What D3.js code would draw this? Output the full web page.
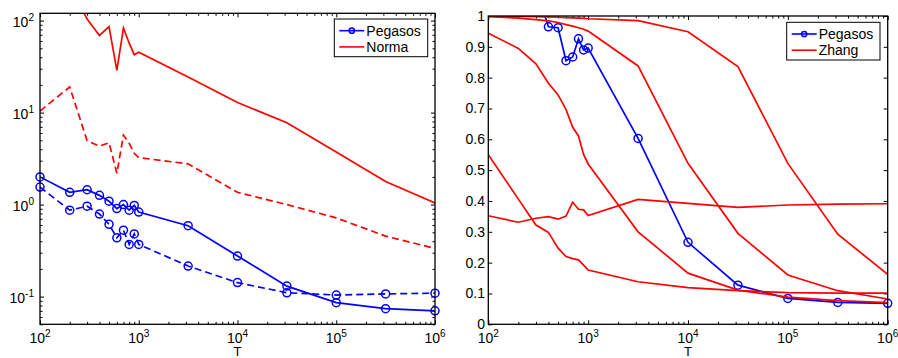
<!DOCTYPE html>
<html><head><meta charset="utf-8">
<script src="https://cdn.jsdelivr.net/npm/d3@7"></script>
<style>
body{margin:0;background:#fff}
svg{display:block}
text{font-family:"Liberation Sans",Arial,Helvetica,sans-serif;fill:#000}
</style>
</head><body>
<svg id="c" width="898" height="358"></svg>
<script>
// ---- data ----
const T = [100,200,300,400,500,600,700,800,900,1000,3162,10000,31623,100000,316228,1000000];

// left panel (log-log)
const pegasosSolid  = [2.0,1.36,1.45,1.26,1.09,0.905,1.0,0.87,0.98,0.83,0.59,0.276,0.13,0.086,0.074,0.070];
const pegasosDashed = [1.55,0.87,0.96,0.79,0.61,0.436,0.527,0.369,0.48,0.369,0.215,0.142,0.11,0.104,0.107,0.109];
const normaSolid    = [350,240,104,69,86,28.8,83,56.8,42.6,45.4,24.3,12.9,7.74,3.73,1.78,1.04];
const normaDashed   = [10.4,19,4.94,4.33,4.70,2.19,5.69,4.63,3.61,3.24,2.77,1.36,1.0,0.717,0.454,0.334];

// right panel (log x, linear y)
const pegasosRight = [1.2,1.15,1.09,0.965,0.962,0.855,0.867,0.926,0.89,0.896,0.603,0.266,0.127,0.084,0.071,0.068];
const zhangA = [1.0,0.999,0.998,0.997,0.996,0.995,0.994,0.993,0.992,0.991,0.985,0.949,0.836,0.522,0.292,0.162];
const zhangB = [0.998,0.993,0.988,0.984,0.979,0.972,0.967,0.962,0.957,0.951,0.838,0.522,0.295,0.16,0.109,0.082];
const zhangC = [0.944,0.895,0.845,0.782,0.744,0.697,0.639,0.611,0.551,0.52,0.30,0.166,0.111,0.088,0.077,0.07];
const zhangD = [0.55,0.406,0.322,0.298,0.247,0.22,0.213,0.209,0.192,0.176,0.138,0.119,0.109,0.103,0.101,0.101];
const zhangE = [0.352,0.331,0.344,0.349,0.341,0.351,0.396,0.373,0.371,0.353,0.405,0.392,0.379,0.387,0.39,0.391];

const xExponents = [2,3,4,5,6];
const yExponentsLeft = [-1,0,1,2];
const yTicksRight = [0,0.1,0.2,0.3,0.4,0.5,0.6,0.7,0.8,0.9,1];
const legendLeft = ["Pegasos","Norma"];
const legendRight = ["Pegasos","Zhang"];

// ---- drawing ----
const svg = d3.select("#c");
const BLUE = "#0000ff", RED = "#ff0000";
const FS = 14;

const L = {x0:40, x1:435, y0:13.3, y1:324.3};
const R = {x0:488.3, x1:887.7, y0:16, y1:324.3};

const xL = d3.scaleLog().domain([100,1e6]).range([L.x0,L.x1]);
const yL = d3.scaleLog().domain([0.05,120]).range([L.y1,L.y0]);
const xR = d3.scaleLog().domain([100,1e6]).range([R.x0,R.x1]);
const yR = d3.scaleLinear().domain([0,1]).range([R.y1,R.y0]);

const defs = svg.append("defs");
function clip(id, P){
  defs.append("clipPath").attr("id",id).append("rect")
    .attr("x",P.x0).attr("y",P.y0).attr("width",P.x1-P.x0).attr("height",P.y1-P.y0);
}
clip("cl",L); clip("cr",R);

function isMajor(v){ const l=Math.log10(v); return Math.abs(l-Math.round(l))<1e-9; }

function tickGroup(gen, scale, values, size, tx, ty){
  svg.append("g").attr("transform",`translate(${tx},${ty})`)
    .call(gen(scale).tickValues(values).tickSize(size).tickFormat(""))
    .call(g=>{ g.select(".domain").remove(); g.selectAll("line").attr("stroke","#000").attr("stroke-width",1); g.selectAll("text").remove(); });
}

function logXAxis(x, P){
  const all = x.ticks();
  const maj = all.filter(isMajor), min = all.filter(v=>!isMajor(v));
  tickGroup(d3.axisBottom, x, maj, -4, 0, P.y1);
  tickGroup(d3.axisBottom, x, min, -2.5, 0, P.y1);
  tickGroup(d3.axisTop, x, maj, -4, 0, P.y0);
  tickGroup(d3.axisTop, x, min, -2.5, 0, P.y0);
  xExponents.forEach(e=>{
    const t = svg.append("text").attr("x",x(Math.pow(10,e))).attr("y",343)
      .attr("text-anchor","middle").attr("font-size",FS);
    t.append("tspan").text("10");
    t.append("tspan").attr("dy",-6).attr("font-size",FS*0.72).text(e);
  });
  svg.append("text").attr("x",(P.x0+P.x1)/2).attr("y",355.5).attr("text-anchor","middle")
    .attr("font-size",13).text("T");
}

function box(P){
  svg.append("rect").attr("x",P.x0).attr("y",P.y0).attr("width",P.x1-P.x0).attr("height",P.y1-P.y0)
    .attr("fill","none").attr("stroke","#000").attr("stroke-width",1.3);
}

function series(x, y, vals, color, dashed, clipId, markers, ydom){
  const data = T.map((t,i)=>[t,vals[i]]);
  const line = d3.line().x(d=>x(d[0])).y(d=>y(d[1]));
  svg.append("path").attr("d",line(data)).attr("fill","none").attr("stroke",color)
    .attr("stroke-width",1.7).attr("stroke-dasharray",dashed?"7,4":null)
    .attr("clip-path",`url(#${clipId})`);
  if(markers){
    svg.append("g").selectAll("circle").data(data.filter(d=>d[1]>=ydom[0]&&d[1]<=ydom[1])).join("circle")
      .attr("cx",d=>x(d[0])).attr("cy",d=>y(d[1])).attr("r",4)
      .attr("fill","none").attr("stroke",color).attr("stroke-width",1.5);
  }
}

function legend(P, names, bx, by, bw, bh){
  svg.append("rect").attr("x",bx).attr("y",by).attr("width",bw).attr("height",bh)
    .attr("fill","#fff").attr("stroke","#000").attr("stroke-width",1);
  const rows = [by+bh*0.31, by+bh*0.74];
  const cols = [BLUE, RED];
  names.forEach((n,i)=>{
    svg.append("line").attr("x1",bx+5).attr("x2",bx+30).attr("y1",rows[i]).attr("y2",rows[i])
      .attr("stroke",cols[i]).attr("stroke-width",1.6);
    if(i===0) svg.append("circle").attr("cx",bx+17.5).attr("cy",rows[i]).attr("r",2.6)
      .attr("fill","none").attr("stroke",cols[i]).attr("stroke-width",1.5);
    svg.append("text").attr("x",bx+32).attr("y",rows[i]+5).attr("font-size",FS).text(n);
  });
}

// ---- Left panel ----
logXAxis(xL, L);
{
  const all = yL.ticks();
  const maj = all.filter(isMajor), min = all.filter(v=>!isMajor(v));
  tickGroup(d3.axisLeft, yL, maj, -4, L.x0, 0);
  tickGroup(d3.axisLeft, yL, min, -2.5, L.x0, 0);
  tickGroup(d3.axisRight, yL, maj, -4, L.x1, 0);
  tickGroup(d3.axisRight, yL, min, -2.5, L.x1, 0);
  yExponentsLeft.forEach(e=>{
    const t = svg.append("text").attr("x",34).attr("y",yL(Math.pow(10,e))+6)
      .attr("text-anchor","end").attr("font-size",FS);
    t.append("tspan").text("10");
    t.append("tspan").attr("dy",-6).attr("font-size",FS*0.72).text(e);
  });
}
series(xL,yL,pegasosSolid,BLUE,false,"cl",true,[0.05,120]);
series(xL,yL,pegasosDashed,BLUE,true,"cl",true,[0.05,120]);
series(xL,yL,normaSolid,RED,false,"cl",false);
series(xL,yL,normaDashed,RED,true,"cl",false);
box(L);
legend(L, legendLeft, 334.3, 19, 93.4, 37.7);

// ---- Right panel ----
logXAxis(xR, R);
tickGroup(d3.axisLeft, yR, yTicksRight, -4, R.x0, 0);
tickGroup(d3.axisRight, yR, yTicksRight, -4, R.x1, 0);
yTicksRight.forEach(v=>{
  svg.append("text").attr("x",485).attr("y",yR(v)+5).attr("text-anchor","end")
    .attr("font-size",FS).text(d3.format("~g")(v));
});
series(xR,yR,pegasosRight,BLUE,false,"cr",true,[0,1]);
[zhangA,zhangB,zhangC,zhangD,zhangE].forEach(s=>series(xR,yR,s,RED,false,"cr",false));
box(R);
legend(R, legendRight, 786.7, 22.3, 93.3, 37.7);
</script>
</body></html>
